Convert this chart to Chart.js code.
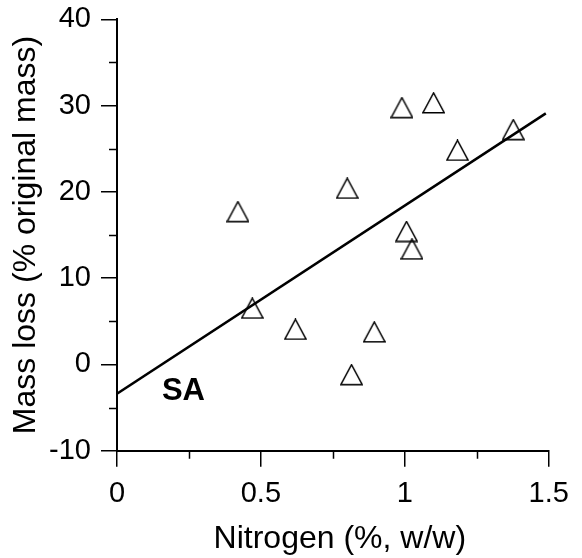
<!DOCTYPE html>
<html>
<head>
<meta charset="utf-8">
<script src="https://cdn.jsdelivr.net/npm/chart.js@4.4.1/dist/chart.umd.min.js"></script>
<style>
  html, body { margin: 0; padding: 0; background: #fff; }
  #wrap { width: 582px; height: 558px; }
</style>
</head>
<body>
<div id="wrap"><canvas id="c" width="582" height="558"></canvas></div>
<script>
// ---- data ----
const nitrogen = [0.42, 0.47, 0.62, 0.80, 0.815, 0.894, 0.99, 1.006, 1.025, 1.10, 1.183, 1.377];
const massLoss = [17.7, 6.5, 4.05, 20.4, -1.2, 3.75, 29.75, 15.4, 13.35, 30.3, 24.8, 27.2];
const fitX = [0, 1.49];
const fitY = [-3.4, 29.1];
const xTicks = [0, 0.5, 1, 1.5];
const yTicks = [-10, 0, 10, 20, 30, 40];
const xMinorTicks = [0.25, 0.75, 1.25];
const yMinorTicks = [-5, 5, 15, 25, 35];
const xTitle = 'Nitrogen (%, w/w)';
const yTitle = 'Mass loss (% original mass)';
const seriesLabel = 'SA';
const seriesLabelPos = [0.156, -4.12];

const FONT = "'Liberation Sans', Arial, sans-serif";
const X_TITLE_SHIFT = 7;

// open triangle marker
function makeTriangle() {
  const w = 23, h = 22;
  const cv = document.createElement('canvas');
  cv.width = w; cv.height = h;
  const g = cv.getContext('2d');
  g.strokeStyle = '#000';
  g.lineWidth = 1.4;
  g.lineJoin = 'miter';
  g.beginPath();
  g.moveTo(w / 2, 0.8);
  g.lineTo(w - 0.8, h - 1.2);
  g.lineTo(0.8, h - 1.2);
  g.closePath();
  g.stroke();
  return cv;
}
const tri = makeTriangle();

const points = nitrogen.map((x, i) => ({ x: x, y: massLoss[i] }));
const fitLine = fitX.map((x, i) => ({ x: x, y: fitY[i] }));

const minorTicksPlugin = {
  id: 'minorTicks',
  beforeDraw(chart) {
    const xs = chart.scales.x;
    if (!xs._shiftWrapped) {
      const orig = xs.drawTitle.bind(xs);
      xs.drawTitle = function () {
        const ctx = this.ctx;
        ctx.save();
        ctx.translate(X_TITLE_SHIFT, 0);
        orig();
        ctx.restore();
      };
      xs._shiftWrapped = true;
    }
  },
  afterDraw(chart) {
    const ctx = chart.ctx;
    const xs = chart.scales.x, ys = chart.scales.y;
    const area = chart.chartArea;
    ctx.save();
    ctx.strokeStyle = '#000';
    ctx.lineWidth = 1.5;
    ctx.beginPath();
    xMinorTicks.forEach(v => {
      const px = Math.round(xs.getPixelForValue(v)) + 0.5;
      ctx.moveTo(px, area.bottom);
      ctx.lineTo(px, area.bottom + 8);
    });
    yMinorTicks.forEach(v => {
      const py = Math.round(ys.getPixelForValue(v)) + 0.5;
      ctx.moveTo(area.left, py);
      ctx.lineTo(area.left - 8, py);
    });
    ctx.stroke();
    // series label
    ctx.fillStyle = '#000';
    ctx.font = "bold 31px " + FONT;
    ctx.textAlign = 'left';
    ctx.textBaseline = 'alphabetic';
    ctx.fillText(seriesLabel, xs.getPixelForValue(seriesLabelPos[0]), ys.getPixelForValue(seriesLabelPos[1]));
    ctx.restore();
  }
};

new Chart(document.getElementById('c'), {
  type: 'scatter',
  data: {
    datasets: [
      {
        type: 'line',
        data: fitLine,
        borderColor: '#000',
        borderWidth: 2.5,
        pointRadius: 0,
        fill: false,
        order: 2
      },
      {
        type: 'scatter',
        data: points,
        pointStyle: tri,
        pointRadius: 11,
        pointHoverRadius: 11,
        order: 1
      }
    ]
  },
  options: {
    responsive: false,
    animation: false,
    events: [],
    layout: { padding: { top: 19.3, right: 33.3, left: 0, bottom: 0 } },
    plugins: { legend: { display: false }, tooltip: { enabled: false } },
    scales: {
      x: {
        type: 'linear',
        min: 0, max: 1.5,
        afterBuildTicks: s => { s.ticks = xTicks.map(v => ({ value: v })); },
        afterFit: s => { s.height = 107.3; s.paddingLeft = 0; s.paddingRight = 0; },
        border: { display: true, color: '#000', width: 2 },
        grid: { drawOnChartArea: false, drawTicks: true, tickLength: 16, color: '#000', lineWidth: 1.5 },
        ticks: { color: '#000', font: { family: FONT, size: 29 }, padding: 10, maxRotation: 0, callback: v => String(v) },
        title: { display: true, text: xTitle, color: '#000', font: { family: FONT, size: 32 }, padding: { top: 0, bottom: 0 } }
      },
      y: {
        type: 'linear',
        min: -10, max: 40,
        afterBuildTicks: s => { s.ticks = yTicks.map(v => ({ value: v })); },
        afterFit: s => { s.width = 117; s.paddingTop = 0; s.paddingBottom = 0; },
        border: { display: true, color: '#000', width: 2 },
        grid: { drawOnChartArea: false, drawTicks: true, tickLength: 16, color: '#000', lineWidth: 1.5 },
        ticks: { color: '#000', font: { family: FONT, size: 29 }, padding: 10, callback: v => String(v) },
        title: { display: true, text: yTitle, color: '#000', font: { family: FONT, size: 32 }, padding: { top: 7, bottom: 0 } }
      }
    }
  },
  plugins: [minorTicksPlugin]
});
</script>
</body>
</html>
